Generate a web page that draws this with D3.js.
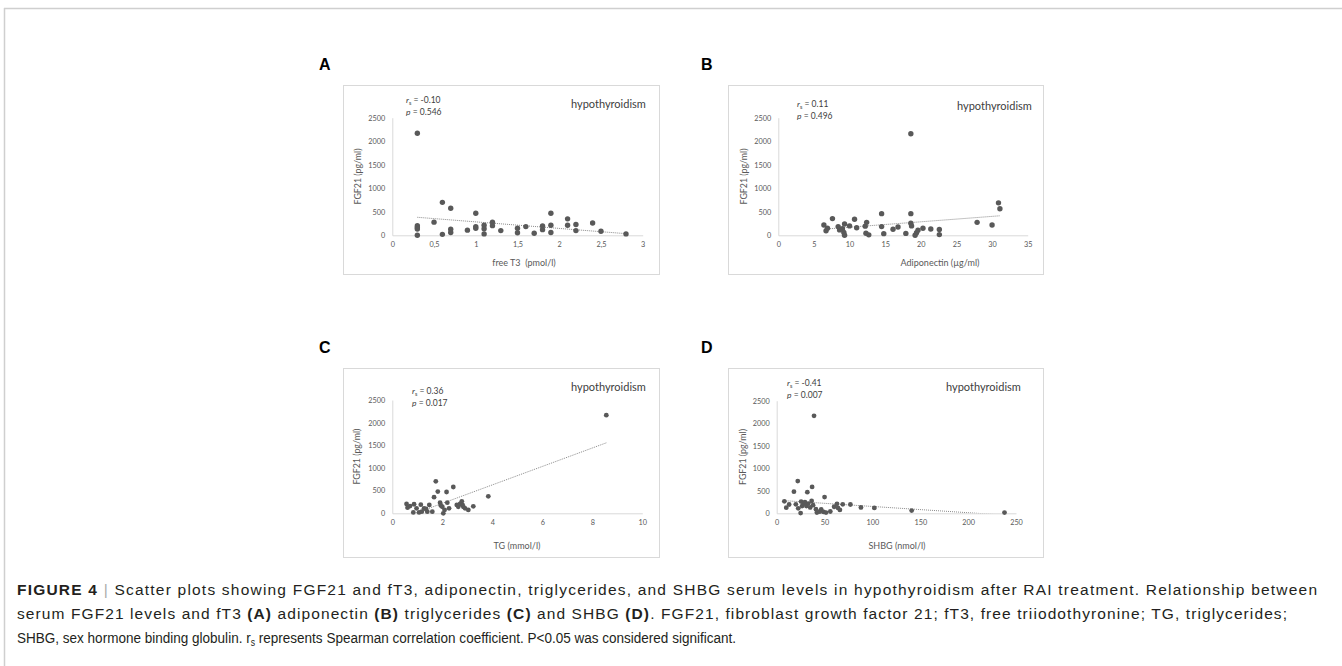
<!DOCTYPE html>
<html>
<head>
<meta charset="utf-8">
<script src="https://cdn.jsdelivr.net/npm/d3@7"></script>
<style>
  body { margin: 0; background: #fff; }
  svg { display: block; }
</style>
</head>
<body>
<div id="container"></div>
<script>
// panel A - free T3 (pmol/l) vs FGF21 (pg/ml)
var ft3 = [0.3,0.3,0.3,0.3,0.3,0.5,0.6,0.6,0.7,0.7,0.7,0.9,1.0,1.0,1.0,1.1,1.1,1.1,1.2,1.2,1.3,1.5,1.5,1.6,1.7,1.8,1.8,1.9,1.9,1.9,2.1,2.1,2.2,2.2,2.4,2.5,2.8];
var fgf21A = [2170,205,165,135,0,280,700,20,575,130,60,110,470,185,150,215,140,30,280,205,100,150,55,185,45,200,120,470,215,60,350,215,230,100,260,85,30];
var trendA = [[0.3, 383], [2.8, 35]];

// panel B - adiponectin (ug/ml)
var adipo = [6.4,6.7,6.9,7.6,8.4,8.6,9.0,9.2,9.3,9.3,10.0,10.7,11.0,12.2,12.4,12.3,12.7,14.5,14.5,14.8,16.1,16.8,17.9,18.6,18.6,18.6,18.7,19.2,19.4,19.6,20.3,21.4,22.6,22.6,27.9,30.0,30.9,31.1];
var fgf21B = [220,95,150,355,185,115,140,60,0,240,200,340,160,195,275,45,10,460,185,35,130,175,40,2160,460,255,200,0,55,110,150,135,125,15,275,220,690,565];
var trendB = [[6.4, 130], [31.1, 415]];

// panel C - TG (mmol/l)
var tg = [0.57,0.61,0.71,0.87,0.84,0.97,1.07,1.14,1.18,1.27,1.35,1.40,1.48,1.60,1.67,1.74,1.82,1.91,1.94,2.0,2.04,2.09,2.17,2.20,2.27,2.44,2.58,2.64,2.71,2.78,2.81,2.84,2.91,3.04,3.24,3.84,8.56];
var fgf21C = [205,125,160,200,20,110,20,190,35,110,95,35,185,35,355,705,480,235,170,145,0,75,470,235,110,580,185,145,205,265,185,145,110,75,155,375,2165];
var trendC = [[0.57, -72], [8.56, 1555]];

// panel D - SHBG (nmol/l)
var shbg = [8,10,13,18,20,22,22.5,25,25.5,26.5,28,29.5,31,32,33,35,36.5,37,38,39,41,42,45,46.5,49,50,51.5,56,60,63,64,66,69,77,88,102,141,238];
var fgf21D = [265,125,195,480,200,715,110,5,260,160,210,250,160,470,215,130,275,585,180,2165,90,15,35,85,30,360,15,40,145,210,120,75,200,195,130,120,60,15];
var trendD = [[8, 280], [238, -40]];

var yTicks = [0, 500, 1000, 1500, 2000, 2500];
var xTicksA = [0, 0.5, 1, 1.5, 2, 2.5, 3];
var xTicksB = [0, 5, 10, 15, 20, 25, 30, 35];
var xTicksC = [0, 2, 4, 6, 8, 10];
var xTicksD = [0, 50, 100, 150, 200, 250];

var statsA = ["-0.10", "0.546"];
var statsB = ["0.11", "0.496"];
var statsC = ["0.36", "0.017"];
var statsD = ["-0.41", "0.007"];

var panels = [
  { label: "A", lx: 319, ly: 70, bx: 343, by: 85, bw: 316, bh: 189,
    l: 49.3, r: 299.7, t: 32.7, b: 150.3, xs: ft3, ys: fgf21A, trend: trendA,
    ticks: xTicksA, stats: statsA, xTitle: "free T3\u00a0 (pmol/l)", xtx: 181,
    sx: 63, sy: 18, hx: 228, hy: 23, ytx: 15, rad: 2.7,
    fmt: function (d) { return String(d).replace(".", ","); } },
  { label: "B", lx: 701, ly: 70, bx: 728, by: 85, bw: 315, bh: 189,
    l: 50.3, r: 299.7, t: 32.7, b: 150.3, xs: adipo, ys: fgf21B, trend: trendB,
    ticks: xTicksB, stats: statsB, xTitle: "Adiponectin (\u00b5g/ml)", xtx: 212,
    sx: 69, sy: 22, hx: 229, hy: 25, ytx: 15.5, rad: 2.7, fmt: String },
  { label: "C", lx: 319, ly: 353, bx: 343, by: 368, bw: 316, bh: 189,
    l: 49.3, r: 299.3, t: 32, b: 145.3, xs: tg, ys: fgf21C, trend: trendC,
    ticks: xTicksC, stats: statsC, xTitle: "TG (mmol/l)", xtx: 174,
    sx: 69, sy: 26, hx: 228, hy: 23, ytx: 14, rad: 2.4, fmt: String },
  { label: "D", lx: 701, ly: 353, bx: 728, by: 368, bw: 315, bh: 189,
    l: 48.7, r: 288, t: 32.7, b: 145.3, xs: shbg, ys: fgf21D, trend: trendD,
    ticks: xTicksD, stats: statsD, xTitle: "SHBG (nmol/l)", xtx: 169,
    sx: 59, sy: 18, hx: 218, hy: 23, ytx: 15, rad: 2.4, fmt: String }
];

var svg = d3.select("#container").append("svg")
  .attr("width", 1342)
  .attr("height", 666);

// page frame
svg.append("line").attr("x1", 4).attr("x2", 1342).attr("y1", 8.5).attr("y2", 8.5)
  .attr("stroke", "#cfcfcf").attr("stroke-width", 1.5);
svg.append("line").attr("x1", 4.5).attr("x2", 4.5).attr("y1", 8).attr("y2", 666)
  .attr("stroke", "#cfcfcf").attr("stroke-width", 1.5);

var chartFont = "Lato, 'Open Sans', sans-serif";

panels.forEach(function (p, i) {
  svg.append("text")
    .attr("x", p.lx).attr("y", p.ly)
    .attr("font-family", "'Liberation Sans', Arial, sans-serif")
    .attr("font-weight", "bold").attr("font-size", 16)
    .text(p.label);

  var g = svg.append("g").attr("transform", "translate(" + p.bx + "," + p.by + ")");
  g.append("rect").attr("x", 0.5).attr("y", 0.5).attr("width", p.bw).attr("height", p.bh)
    .attr("fill", "#fff").attr("stroke", "#d9d9d9");

  var dom = p.ticks;
  var x = d3.scaleLinear().domain([dom[0], dom[dom.length - 1]]).range([p.l, p.r]);
  var y = d3.scaleLinear().domain([0, 2500]).range([p.b, p.t]);

  var ya = g.append("g").attr("transform", "translate(" + p.l + ",0)")
    .call(d3.axisLeft(y).tickValues(yTicks).tickFormat(String)
      .tickSize(0).tickSizeOuter(0).tickPadding(7));
  var xa = g.append("g").attr("transform", "translate(0," + p.b + ")")
    .call(d3.axisBottom(x).tickValues(p.ticks).tickFormat(p.fmt)
      .tickSize(0).tickSizeOuter(0).tickPadding(7));
  [ya, xa].forEach(function (a) {
    a.select(".domain").attr("stroke", "#d9d9d9");
    a.selectAll("text").attr("fill", "#595959").attr("font-size", 7.3).attr("font-family", chartFont);
  });

  g.append("text")
    .attr("transform", "translate(" + p.ytx + "," + ((p.t + p.b) / 2) + ") rotate(-90)")
    .attr("text-anchor", "middle").attr("dy", "0.35em")
    .attr("font-family", chartFont).attr("font-size", 8.8).attr("fill", "#595959")
    .text("FGF21 (pg/ml)");
  g.append("text")
    .attr("x", p.xtx).attr("y", 177.7).attr("dy", "0.35em")
    .attr("text-anchor", "middle")
    .attr("font-family", chartFont).attr("font-size", 9).attr("fill", "#595959")
    .text(p.xTitle);

  // trend line, clipped to plot area
  var clipId = "clip" + i;
  g.append("clipPath").attr("id", clipId).append("rect")
    .attr("x", p.l).attr("y", p.t - 10).attr("width", p.r - p.l).attr("height", p.b - p.t + 10);
  g.append("path")
    .datum(p.trend)
    .attr("clip-path", "url(#" + clipId + ")")
    .attr("d", d3.line().x(function (d) { return x(d[0]); }).y(function (d) { return y(d[1]); }))
    .attr("fill", "none").attr("stroke", "#8a8a8a").attr("stroke-width", 1)
    .attr("stroke-dasharray", "1,1");

  g.append("g").selectAll("circle")
    .data(d3.zip(p.xs, p.ys))
    .enter().append("circle")
    .attr("cx", function (d) { return x(d[0]); })
    .attr("cy", function (d) { return y(d[1]); })
    .attr("r", p.rad)
    .attr("fill", "#595959");

  var rs = g.append("text").attr("x", p.sx).attr("y", p.sy)
    .attr("font-family", chartFont).attr("font-size", 8.5).attr("fill", "#404040");
  rs.append("tspan").attr("font-style", "italic").text("r");
  rs.append("tspan").attr("font-size", 5.5).attr("dy", 2).text("s");
  rs.append("tspan").attr("dy", -2).text(" = " + p.stats[0]);
  var pv = g.append("text").attr("x", p.sx).attr("y", p.sy + 11.5)
    .attr("font-family", chartFont).attr("font-size", 8.5).attr("fill", "#404040");
  pv.append("tspan").attr("font-style", "italic").text("p");
  pv.append("tspan").text(" = " + p.stats[1]);

  g.append("text").attr("x", p.hx).attr("y", p.hy)
    .attr("font-family", chartFont).attr("font-size", 11).attr("fill", "#404040")
    .text("hypothyroidism");
});

// caption: last line condensed, first two lines spread to the full width
var capFont = "'Liberation Sans', Arial, sans-serif";
var capLines = [
  { y: 595, len: 1300, sq: 1, adj: "spacing", parts: [
    { t: "FIGURE 4", b: true }, { t: " | ", c: "#aaa" },
    { t: "Scatter plots showing FGF21 and fT3, adiponectin, triglycerides, and SHBG serum levels in hypothyroidism after RAI treatment. Relationship between" }] },
  { y: 619, len: 1270, sq: 1, adj: "spacing", parts: [
    { t: "serum FGF21 levels and fT3 " }, { t: "(A)", b: true }, { t: " adiponectin " }, { t: "(B)", b: true },
    { t: " triglycerides " }, { t: "(C)", b: true }, { t: " and SHBG " }, { t: "(D)", b: true },
    { t: ". FGF21, fibroblast growth factor 21; fT3, free triiodothyronine; TG, triglycerides;" }] },
  { y: 643, len: 719, sq: 0.84, adj: "spacingAndGlyphs", parts: [
    { t: "SHBG, sex hormone binding globulin. r" }, { t: "s", sub: true },
    { t: " represents Spearman correlation coefficient. P<0.05 was considered significant." }] }
];
capLines.forEach(function (line) {
  var t = svg.append("text").attr("x", 17 / line.sq).attr("y", line.y)
    .attr("transform", "scale(" + line.sq + ",1)")
    .attr("font-family", capFont).attr("font-size", 15.5).attr("fill", "#231f20")
    .attr("textLength", line.len / line.sq).attr("lengthAdjust", line.adj);
  var shifted = false;
  line.parts.forEach(function (pt) {
    var s = t.append("tspan").text(pt.t);
    if (pt.b) s.attr("font-weight", "bold");
    if (pt.c) s.attr("fill", pt.c);
    if (pt.sub) { s.attr("font-size", 10).attr("dy", 3); shifted = true; }
    else if (shifted) { s.attr("dy", -3); shifted = false; }
  });
});
</script>
</body>
</html>
